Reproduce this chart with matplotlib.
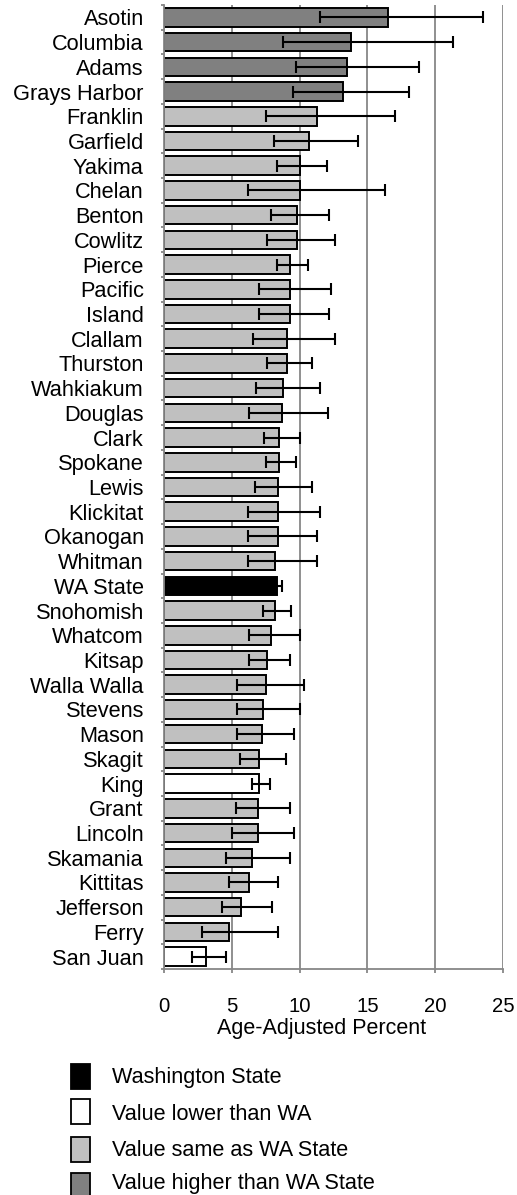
import numpy as np
import matplotlib
matplotlib.use('Agg')
import matplotlib.pyplot as plt
from matplotlib.patches import Rectangle

plt.rcParams['font.family'] = ['Liberation Sans', 'DejaVu Sans']

counties = ['Asotin', 'Columbia', 'Adams', 'Grays Harbor', 'Franklin', 'Garfield',
            'Yakima', 'Chelan', 'Benton', 'Cowlitz', 'Pierce', 'Pacific', 'Island',
            'Clallam', 'Thurston', 'Wahkiakum', 'Douglas', 'Clark', 'Spokane', 'Lewis',
            'Klickitat', 'Okanogan', 'Whitman', 'WA State', 'Snohomish', 'Whatcom',
            'Kitsap', 'Walla Walla', 'Stevens', 'Mason', 'Skagit', 'King', 'Grant',
            'Lincoln', 'Skamania', 'Kittitas', 'Jefferson', 'Ferry', 'San Juan']

percent = [16.5, 13.8, 13.5, 13.2, 11.3, 10.7, 10.0, 10.0, 9.8, 9.8, 9.3, 9.3, 9.3,
           9.1, 9.1, 8.8, 8.7, 8.5, 8.5, 8.4, 8.4, 8.4, 8.2, 8.3, 8.2, 7.9, 7.6, 7.5,
           7.3, 7.2, 7.0, 7.0, 6.9, 6.9, 6.5, 6.3, 5.7, 4.8, 3.1]

ci_low = [11.5, 8.8, 9.7, 9.5, 7.5, 8.1, 8.3, 6.2, 7.9, 7.6, 8.3, 7.0, 7.0, 6.6,
          7.6, 6.8, 6.3, 7.4, 7.5, 6.7, 6.2, 6.2, 6.2, 7.8, 7.3, 6.3, 6.3, 5.4, 5.4,
          5.4, 5.6, 6.5, 5.3, 5.0, 4.6, 4.8, 4.3, 2.8, 2.1]

ci_high = [23.5, 21.3, 18.8, 18.1, 17.0, 14.3, 12.0, 16.3, 12.2, 12.6, 10.6, 12.3,
           12.2, 12.6, 10.9, 11.5, 12.1, 10.0, 9.7, 10.9, 11.5, 11.3, 11.3, 8.7, 9.4,
           10.0, 9.3, 10.3, 10.0, 9.6, 9.0, 7.8, 9.3, 9.6, 9.3, 8.4, 8.0, 8.4, 4.6]

# higher / same / state / lower compared with Washington State
group = ['higher'] * 4 + ['same'] * 19 + ['state'] + ['same'] * 7 + ['lower'] + \
        ['same'] * 6 + ['lower']

group_colors = {'state': '#000000', 'lower': '#ffffff',
                'same': '#c0c0c0', 'higher': '#808080'}
legend_items = [('state', 'Washington State'),
                ('lower', 'Value lower than WA'),
                ('same', 'Value same as WA State'),
                ('higher', 'Value higher than WA State')]

y = np.arange(len(counties))
vals = np.array(percent)
err = np.array([vals - np.array(ci_low), np.array(ci_high) - vals])

fig = plt.figure(figsize=(5.17, 11.95), dpi=100)
ax = fig.add_axes([164 / 517, 1 - 969 / 1195, 339 / 517, 964 / 1195])

ax.barh(y, vals, height=0.75, color=[group_colors[g] for g in group],
        edgecolor='black', linewidth=1.4, zorder=2)
ax.errorbar(vals, y, xerr=err, fmt='none', ecolor='black', elinewidth=1.5,
            capsize=4, capthick=1.5, zorder=3)

ax.set_xlim(0, 25)
ax.set_ylim(len(counties) - 0.5, -0.5)
ax.set_xticks([0, 5, 10, 15, 20, 25])
ax.xaxis.grid(True, color='#878787', linewidth=1.3, zorder=0)
ax.set_axisbelow(True)

ax.set_yticks(y)
ax.set_yticklabels(counties, fontsize=15.7)
ax.set_yticks(np.arange(-0.5, len(counties), 1), minor=True)
ax.tick_params(axis='y', which='major', length=0, pad=14.5)
ax.tick_params(axis='y', which='minor', length=2.5, color='#878787', width=1.3)
ax.tick_params(axis='x', length=3, color='#878787', width=1.3, labelsize=14.6, pad=17.5)

for side in ['top', 'right']:
    ax.spines[side].set_visible(False)
for side in ['left', 'bottom']:
    ax.spines[side].set_color('#878787')
    ax.spines[side].set_linewidth(1.3)

ax.set_xlabel('Age-Adjusted Percent', fontsize=15.5, va='center')
ax.xaxis.set_label_coords(0.4646, -0.0622)

# legend boxes below the chart
box_top = [1064, 1099, 1137, 1173]
text_y = [1077, 1114, 1150, 1183]
for (key, label), top, ty in zip(legend_items, box_top, text_y):
    fig.patches.append(Rectangle((71 / 517, 1 - (top + 25) / 1195), 19 / 517, 25 / 1195,
                                 transform=fig.transFigure, facecolor=group_colors[key],
                                 edgecolor='black', linewidth=1.3))
    fig.text(112 / 517, 1 - ty / 1195, label, fontsize=15.6, va='center')

fig.savefig('out.png', dpi=100)
